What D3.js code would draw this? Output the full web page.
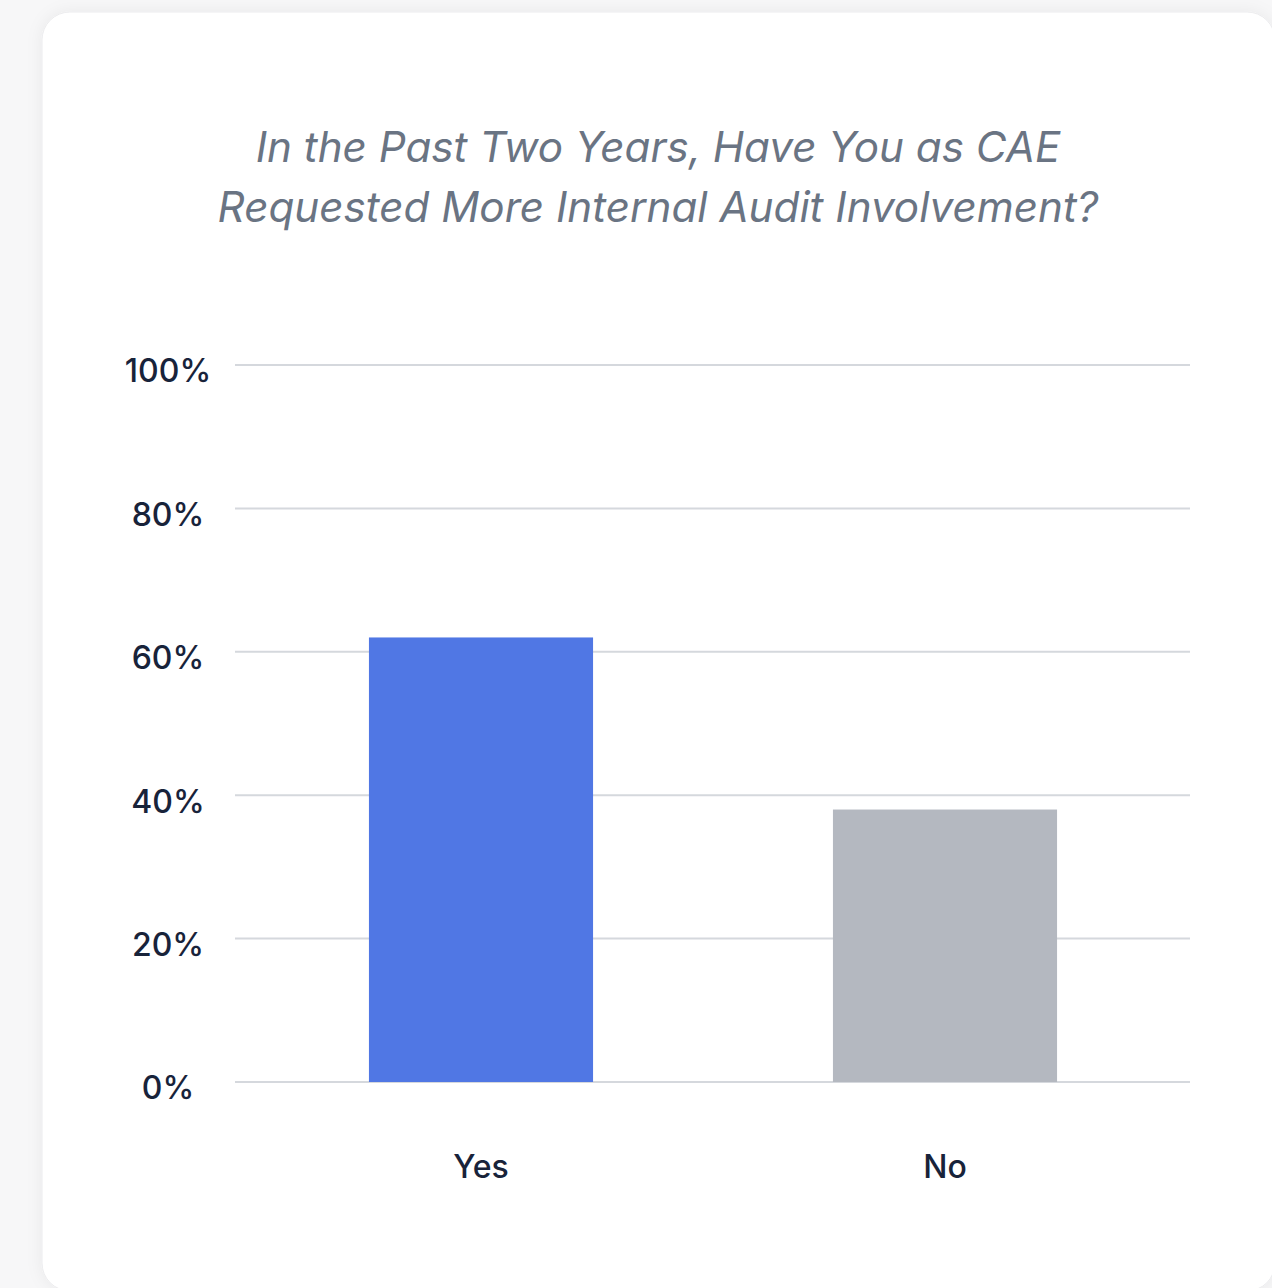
<!DOCTYPE html>
<html>
<head>
<meta charset="utf-8">
<script src="https://cdn.jsdelivr.net/npm/d3@7"></script>
<style>
  html, body { margin: 0; padding: 0; background: #f7f7f8; }
  svg { display: block; }
</style>
</head>
<body>
<svg id="chart" width="1272" height="1288"></svg>
<script>
// Survey answers and their shares
const categories = ["Yes", "No"];
const shares = [62, 38];
const barColors = ["#5077e4", "#b4b8c0"];
const yTicks = [0, 20, 40, 60, 80, 100];
const titleLines = [
  "In the Past Two Years, Have You as CAE",
  "Requested More Internal Audit Involvement?"
];

const svg = d3.select("#chart");

// Card with soft shadow
const defs = svg.append("defs");
const f = defs.append("filter").attr("id", "shadow")
  .attr("x", "-10%").attr("y", "-10%").attr("width", "120%").attr("height", "120%");
f.append("feDropShadow").attr("dx", 0).attr("dy", 0).attr("stdDeviation", 8)
  .attr("flood-color", "#000").attr("flood-opacity", 0.06);

svg.append("rect")
  .attr("x", 42).attr("y", 12).attr("width", 1233).attr("height", 1279)
  .attr("rx", 28).attr("ry", 28)
  .attr("fill", "#ffffff")
  .attr("stroke", "#ececee").attr("stroke-width", 1)
  .attr("filter", "url(#shadow)");

// Title
svg.append("text")
  .attr("x", 658).attr("y", 162)
  .attr("text-anchor", "middle")
  .attr("font-family", "Inter, 'Noto Sans', sans-serif")
  .attr("font-style", "italic")
  .attr("font-size", 42.2)
  .attr("fill", "#6a7483")
  .selectAll("tspan").data(titleLines).join("tspan")
  .attr("x", 658)
  .attr("dy", (d, i) => i === 0 ? 0 : 60)
  .text(d => d);

// Scales
const y = d3.scaleLinear().domain([0, 100]).range([1082, 365]);
const x = d3.scaleBand().domain(categories).range([249, 1177])
  .paddingInner(0.517).paddingOuter(0.2585);

const gridLeft = 235, gridRight = 1190;

// Gridlines
svg.append("g").selectAll("line").data(yTicks).join("line")
  .attr("x1", gridLeft).attr("x2", gridRight)
  .attr("y1", d => y(d)).attr("y2", d => y(d))
  .attr("stroke", "#d5d8dd").attr("stroke-width", 2);

// Y axis labels
const yAxis = d3.axisLeft(y).tickValues(yTicks).tickFormat(d => d + "%").tickSize(0);
const gy = svg.append("g").attr("transform", "translate(168,0)").call(yAxis);
gy.select(".domain").remove();
gy.selectAll("text")
  .attr("x", 0).attr("dy", "0.53em")
  .attr("text-anchor", "middle")
  .attr("font-family", "Inter, 'Noto Sans', sans-serif")
  .attr("font-size", 32).attr("font-weight", 500)
  .attr("fill", "#18233a");

// Bars
svg.append("g").selectAll("rect").data(categories).join("rect")
  .attr("x", d => x(d))
  .attr("width", x.bandwidth())
  .attr("y", (d, i) => y(shares[i]))
  .attr("height", (d, i) => y(0) - y(shares[i]))
  .attr("fill", (d, i) => barColors[i]);

// X axis labels
const xAxis = d3.axisBottom(x).tickSize(0);
const gx = svg.append("g").attr("transform", "translate(0,1082)").call(xAxis);
gx.select(".domain").remove();
gx.selectAll("text")
  .attr("y", 96).attr("dy", 0)
  .attr("font-family", "Inter, 'Noto Sans', sans-serif")
  .attr("font-size", 32).attr("font-weight", 500)
  .attr("fill", "#18233a");
</script>
</body>
</html>
